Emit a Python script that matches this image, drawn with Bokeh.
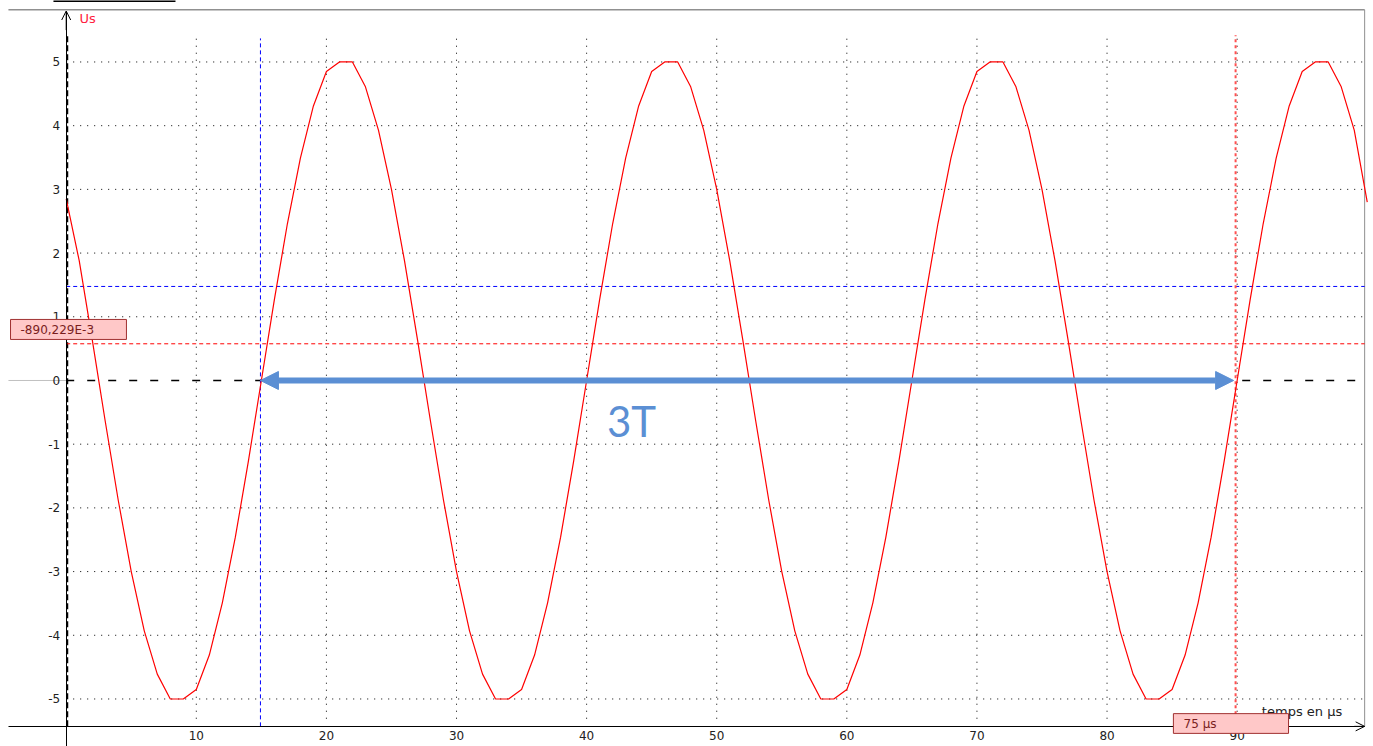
from bokeh.plotting import figure
from bokeh.models import Range1d, FixedTicker, Arrow, NormalHead, OpenHead, BoxAnnotation, Label, PrintfTickFormatter
from bokeh.embed import file_html
from bokeh.resources import INLINE
from bokeh.core.properties import value

# ---- data ----
time_us = list(range(0, 101))
us_volts = [
    2.85, 1.88, 0.64, -0.64, -1.88, -3.00, -3.93, -4.61, -5.00, -5.00, -4.85, -4.31, -3.49,
    -2.46, -1.27, 0.00, 1.27, 2.46, 3.49, 4.31, 4.85, 5.00, 5.00, 4.61, 3.93,
    3.00, 1.88, 0.64, -0.64, -1.88, -3.00, -3.93, -4.61, -5.00, -5.00, -4.85, -4.31, -3.49,
    -2.46, -1.27, 0.00, 1.27, 2.46, 3.49, 4.31, 4.85, 5.00, 5.00, 4.61, 3.93,
    3.00, 1.88, 0.64, -0.64, -1.88, -3.00, -3.93, -4.61, -5.00, -5.00, -4.85, -4.31, -3.49,
    -2.46, -1.27, 0.00, 1.27, 2.46, 3.49, 4.31, 4.85, 5.00, 5.00, 4.61, 3.93,
    3.00, 1.88, 0.64, -0.64, -1.88, -3.00, -3.93, -4.61, -5.00, -5.00, -4.85, -4.31, -3.49,
    -2.46, -1.27, 0.00, 1.27, 2.46, 3.49, 4.31, 4.85, 5.00, 5.00, 4.61, 3.93,
    2.80,
]
x_ticks = [10, 20, 30, 40, 50, 60, 70, 80, 90]
y_ticks = [-5, -4, -3, -2, -1, 0, 1, 2, 3, 4, 5]
y_grid = [-5, -4, -3, -2, -1, 1, 2, 3, 4, 5]
cursor_t1 = 14.93
cursor_t2 = 89.88
cursor_u_blue = 1.476
cursor_u_red = 0.576
readout_u = "-890,229E-3"
readout_t = "75 µs"
period_label = "3T"
x_title = "temps en µs"
y_title = "Us"

# ---- frame geometry ----
X_MIN, X_MAX = -5.05, 100.48
Y_MIN, Y_MAX = -5.746, 5.965
X_LEFT = -4.44
X_EDGE = 99.8
Y_AXIS_POS = -5.43
Y_TOP = 5.80
Y_FRAME = 5.82
GRID_TOP, GRID_BOT = 5.42, -5.31

FONT = "DejaVu Sans"
BLUE_ARROW = "#5B8FD4"

p = figure(width=1373, height=746, x_range=Range1d(X_MIN, X_MAX), y_range=Range1d(Y_MIN, Y_MAX),
           output_backend="svg", toolbar_location=None, min_border=0,
           outline_line_color=None, background_fill_color="white", border_fill_color="white")
p.grid.visible = False

# axes at fixed positions inside the frame
p.xaxis.fixed_location = Y_AXIS_POS
p.yaxis.fixed_location = 0
p.xaxis.ticker = FixedTicker(ticks=x_ticks)
p.yaxis.ticker = FixedTicker(ticks=y_ticks)
p.xaxis.formatter = PrintfTickFormatter(format="%d")
p.yaxis.formatter = PrintfTickFormatter(format="%d")
p.xaxis.bounds = (X_LEFT, X_EDGE)
p.yaxis.bounds = (Y_MIN, Y_TOP)
for ax in (p.xaxis[0], p.yaxis[0]):
    ax.major_tick_out = 0
    ax.major_tick_in = 0
    ax.minor_tick_out = 0
    ax.minor_tick_in = 0
    ax.axis_line_color = "black"
    ax.axis_line_width = 1
    ax.major_label_text_font = FONT
    ax.major_label_text_font_size = "12px"
    ax.major_label_text_color = "#222222"
p.xaxis.major_label_standoff = 5
p.yaxis.major_label_standoff = 6

# stray title underline at the very top
p.segment(x0=[-0.98], y0=[5.957], x1=[8.4], y1=[5.957], line_color="black", line_width=2)

# frame border (top and right)
p.segment(x0=[X_LEFT], y0=[Y_FRAME], x1=[X_EDGE], y1=[Y_FRAME], line_color="#909090", line_width=1.5)
p.segment(x0=[X_EDGE], y0=[Y_AXIS_POS], x1=[X_EDGE], y1=[Y_FRAME], line_color="#909090", line_width=1)

# dotted grid
p.segment(x0=x_ticks, y0=[GRID_BOT] * len(x_ticks), x1=x_ticks, y1=[GRID_TOP] * len(x_ticks),
          line_color="black", line_width=1, line_dash="1 6")
p.segment(x0=[0] * len(y_grid), y0=y_grid, x1=[X_EDGE] * len(y_grid), y1=y_grid,
          line_color="black", line_width=1, line_dash="1 6")

# zero line
p.segment(x0=[X_LEFT], y0=[0], x1=[0], y1=[0], line_color="#c0c0c0", line_width=1)
p.segment(x0=[0], y0=[0], x1=[X_EDGE], y1=[0], line_color="black", line_width=1.5, line_dash="8 13")
# thick dashed overlay on the y axis
p.segment(x0=[0.08], y0=[Y_AXIS_POS], x1=[0.08], y1=[GRID_TOP], line_color="black", line_width=2, line_dash="6 3")

# cursors
p.segment(x0=[0], y0=[cursor_u_blue], x1=[X_EDGE], y1=[cursor_u_blue], line_color="#0000FF", line_width=1, line_dash="4 3")
p.segment(x0=[0], y0=[cursor_u_red], x1=[X_EDGE], y1=[cursor_u_red], line_color="#FF0000", line_width=1, line_dash="4 3")
p.segment(x0=[cursor_t1], y0=[Y_AXIS_POS], x1=[cursor_t1], y1=[5.37], line_color="#0000FF", line_width=1, line_dash="4 3")
p.segment(x0=[cursor_t2], y0=[Y_AXIS_POS], x1=[cursor_t2], y1=[GRID_TOP], line_color="#FF5050", line_width=2, line_dash="3 3")

# signal
p.line(time_us, us_volts, line_color="#FF0000", line_width=1.2)

# axis arrow heads
p.add_layout(Arrow(x_start=0, y_start=5.5, x_end=0, y_end=Y_TOP, line_color="black", line_width=1,
                   end=OpenHead(size=9, line_color="black", line_width=1)))
p.add_layout(Arrow(x_start=99.0, y_start=Y_AXIS_POS, x_end=X_EDGE, y_end=Y_AXIS_POS, line_color="black", line_width=1,
                   end=OpenHead(size=9, line_color="black", line_width=1)))

# 3T arrow
p.add_layout(Arrow(x_start=cursor_t1, y_start=0, x_end=cursor_t2 - 0.15, y_end=0,
                   line_color=BLUE_ARROW, line_width=6,
                   start=NormalHead(size=18, fill_color=BLUE_ARROW, line_color=BLUE_ARROW, line_width=1),
                   end=NormalHead(size=18, fill_color=BLUE_ARROW, line_color=BLUE_ARROW, line_width=1)))
p.text(x=[43.45], y=[-0.63], text=[period_label], text_font=value("Lato"), text_font_size="42px",
       text_color=BLUE_ARROW, text_align="center", text_baseline="middle")

# axis titles
p.text(x=[1.02], y=[5.68], text=[y_title], text_font=value(FONT), text_font_size="13px",
       text_color="#FF2040", text_align="left", text_baseline="middle")
p.text(x=[91.9], y=[-5.19], text=[x_title], text_font=value(FONT), text_font_size="13px",
       text_color="#222222", text_align="left", text_baseline="middle")

# readout boxes
p.add_layout(BoxAnnotation(left=-4.28, right=4.63, top=0.958, bottom=0.644,
                           fill_color="#FFC8C8", fill_alpha=1, line_color="#A03030", line_width=1, line_alpha=1))
p.add_layout(Label(x=-3.51, y=0.80, text=readout_u, text_font=FONT, text_font_size="12px",
                   text_color="#7A1E1E", text_baseline="middle", text_align="left"))
p.add_layout(BoxAnnotation(left=85.1, right=93.95, top=-5.23, bottom=-5.54,
                           fill_color="#FFC8C8", fill_alpha=1, line_color="#A03030", line_width=1, line_alpha=1))
p.add_layout(Label(x=85.88, y=-5.385, text=readout_t, text_font=FONT, text_font_size="12px",
                   text_color="#7A1E1E", text_baseline="middle", text_align="left"))

open("out.html", "w").write(file_html(p, INLINE))
